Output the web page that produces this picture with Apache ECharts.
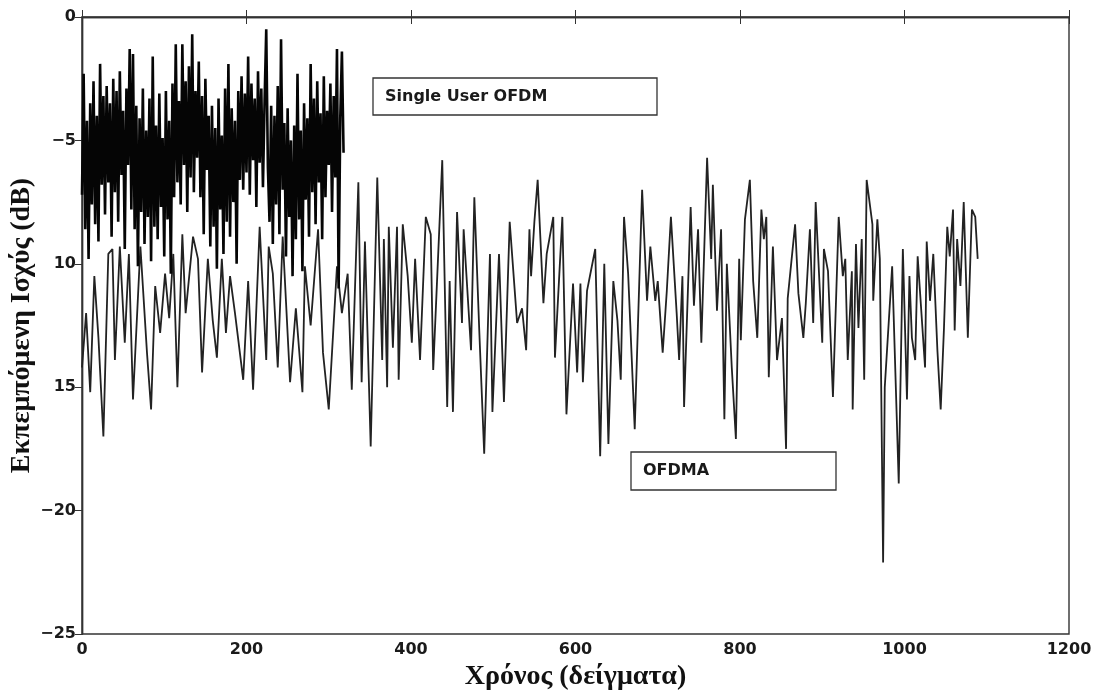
<!DOCTYPE html>
<html>
<head>
<meta charset="utf-8">
<script src="https://cdn.jsdelivr.net/npm/echarts@6/dist/echarts.min.js"></script>
<style>html,body{margin:0;padding:0;background:#fff}#c{width:1100px;height:693px}</style>
</head>
<body>
<div id="c"></div>
<script>
// Single User OFDM: values every 2 samples starting at sample 0
const suStep = 2;
const singleUser = [
-7.2,-2.3,-8.6,-4.2,-9.8,-3.5,-7.6,-2.6,-8.4,-4.0,
-9.1,-1.9,-6.8,-3.2,-8.0,-2.8,-6.7,-3.5,-8.9,-2.5,
-7.1,-3.0,-8.3,-2.2,-6.4,-3.8,-9.4,-2.9,-6.0,-1.3,
-7.8,-1.5,-8.6,-3.6,-10.1,-4.1,-7.9,-2.9,-9.2,-4.6,
-8.1,-3.3,-9.9,-1.6,-8.5,-4.4,-9.0,-3.1,-7.7,-4.9,
-9.7,-3.0,-8.2,-4.2,-10.4,-2.7,-7.3,-1.1,-6.7,-3.4,
-7.6,-1.1,-6.0,-2.6,-7.9,-2.0,-6.5,-0.7,-7.1,-3.0,
-5.7,-1.8,-7.3,-3.2,-8.8,-2.5,-6.2,-4.0,-9.3,-3.6,
-8.5,-4.5,-10.2,-3.3,-7.8,-4.8,-9.6,-2.9,-8.3,-1.9,
-8.9,-3.7,-7.5,-4.2,-10.0,-3.0,-6.6,-2.4,-7.0,-3.1,
-6.3,-1.6,-7.2,-2.7,-5.8,-3.3,-7.7,-2.2,-5.9,-2.9,
-6.9,-3.4,-0.5,-6.1,-8.3,-3.6,-9.2,-4.0,-7.6,-2.8,
-8.8,-0.9,-7.0,-4.3,-9.7,-3.7,-8.1,-5.0,-10.5,-4.4,
-9.0,-2.3,-8.2,-4.6,-10.3,-3.5,-7.4,-4.1,-8.9,-1.9,
-7.1,-3.3,-8.4,-2.6,-6.7,-3.9,-9.0,-2.4,-7.3,-3.8,
-6.0,-2.7,-7.9,-3.2,-6.5,-1.3,-11.0,-4.1,-1.4,-5.5
];

// OFDMA: sample positions and values (dB)
const ofdmaX = [
0,5,10,15,20,26,32,37,40,46,52,57,62,71,79,84,89,95,101,106,
111,116,122,126,135,141,146,153,159,164,170,175,180,186,196,202,208,216,224,227,
232,238,244,253,260,268,271,278,287,293,300,310,316,323,328,336,340,344,351,359,
365,367,371,373,378,383,385,390,396,401,405,411,418,424,427,438,444,447,451,456,
462,464,473,477,483,489,496,499,507,513,520,529,535,540,544,546,550,554,561,565,
573,575,584,589,597,602,606,609,614,624,630,635,640,646,651,655,659,664,672,681,
687,691,697,700,706,711,716,723,726,730,732,740,744,749,753,760,765,767,772,777,
781,784,790,795,799,801,806,812,816,821,826,829,832,835,840,845,851,856,858,867,
871,877,880,885,889,892,900,902,907,913,920,925,928,931,936,937,941,944,948,951,
954,961,962,967,970,974,976,985,993,998,1003,1006,1009,1013,1016,1025,1027,1031,1035,1040,
1044,1048,1052,1055,1059,1061,1064,1068,1072,1077,1082,1086,1089
];
const ofdmaY = [
-14.2,-12,-15.2,-10.5,-13,-17,-9.6,-9.4,-13.9,-9.3,-13.2,-9.6,-15.5,-9.3,-13.6,-15.9,-10.9,-12.8,-10.4,-12.2,
-9.6,-15,-8.8,-12,-8.9,-9.8,-14.4,-9.8,-12.3,-13.8,-9.8,-12.8,-10.5,-12,-14.7,-10.7,-15.1,-8.5,-13.9,-9.3,
-10.4,-14.2,-8.9,-14.8,-11.8,-15.2,-10.1,-12.5,-8.6,-13.6,-15.9,-10.1,-12,-10.4,-15.1,-6.7,-14.8,-9.1,-17.4,-6.5,
-13.9,-9.0,-15,-8.5,-13.4,-8.5,-14.7,-8.4,-10.5,-13.2,-9.8,-13.9,-8.1,-8.8,-14.3,-5.8,-15.8,-10.7,-16,-7.9,
-12.4,-8.6,-13.5,-7.3,-12.7,-17.7,-9.6,-16,-9.6,-15.6,-8.3,-12.4,-11.8,-13.5,-8.6,-10.5,-8.3,-6.6,-11.6,-9.6,
-8.1,-13.8,-8.1,-16.1,-10.8,-14.4,-10.8,-14.8,-11.1,-9.4,-17.8,-10,-17.3,-10.7,-12.3,-14.7,-8.1,-10.4,-16.7,-7.0,
-11.5,-9.3,-11.5,-10.7,-13.6,-11.1,-8.1,-12,-13.9,-10.5,-15.8,-7.7,-11.7,-8.6,-13.2,-5.7,-9.8,-6.8,-11.9,-8.6,
-16.3,-10,-14.2,-17.1,-9.8,-13.1,-8.2,-6.6,-10.7,-13,-7.8,-9,-8.1,-14.6,-9.3,-13.9,-12.2,-17.5,-11.4,-8.4,
-11.2,-13,-11.6,-8.6,-12.4,-7.5,-13.2,-9.4,-10.3,-15.4,-8.1,-10.5,-9.8,-13.9,-10.3,-15.9,-9.2,-12.6,-9.0,-14.7,
-6.6,-8.4,-11.5,-8.2,-9.8,-22.1,-15,-10.1,-18.9,-9.4,-15.5,-10.5,-13,-13.9,-9.7,-14.2,-9.1,-11.5,-9.6,-13.5,
-15.9,-12.6,-8.5,-9.7,-7.8,-12.7,-9.0,-10.9,-7.5,-13,-7.8,-8.1,-9.8
];

const xTickLabels = ['0', '200', '400', '600', '800', '1000', '1200'];
const yTickLabels = ['\u221225', '\u221220', '15', '10', '\u22125', '0']; // as printed, from -25 up to 0
const seriesNames = ['OFDMA', 'Single User OFDM'];

const suData = singleUser.map((v, i) => [i * suStep, v]);
const ofdmaData = ofdmaX.map((x, i) => [x, ofdmaY[i]]);

const chart = echarts.init(document.getElementById('c'));
const labelFont = { fontFamily: 'DejaVu Sans, sans-serif', fontSize: 16, fontWeight: 'bold', color: '#1a1a1a' };
const serifName = { fontFamily: 'Liberation Serif, Times New Roman, serif', fontSize: 28, fontWeight: 'bold', color: '#111' };

chart.setOption({
  animation: false,
  backgroundColor: '#fff',
  grid: { left: 82, right: 31, top: 17, bottom: 59, containLabel: false, outerBoundsMode: 'none', show: true, borderColor: '#333', borderWidth: 1.4, backgroundColor: 'transparent' },
  xAxis: [{
    type: 'value', min: 0, max: 1200, interval: 200,
    position: 'bottom',
    name: 'Χρόνος (δείγματα)', nameLocation: 'middle', nameGap: 25, nameTextStyle: serifName,
    axisLine: { show: true, lineStyle: { color: '#333', width: 1.4 } },
    axisTick: { show: true, inside: true, length: 7, lineStyle: { color: '#333' } },
    axisLabel: Object.assign({ margin: 8, formatter: (v) => xTickLabels[Math.round(v / 200)] }, labelFont),
    splitLine: { show: false }
  }, {
    type: 'value', min: 0, max: 1200, interval: 200,
    position: 'top',
    axisLine: { show: true, lineStyle: { color: '#333', width: 1.4 } },
    axisTick: { show: true, inside: true, length: 7, lineStyle: { color: '#333' } },
    axisLabel: { show: false }, splitLine: { show: false }
  }],
  yAxis: [{
    type: 'value', min: -25, max: 0, interval: 5,
    position: 'left',
    name: 'Εκπεμπόμενη Ισχύς (dB)', nameLocation: 'middle', nameGap: 46, nameMoveOverlap: false, nameTextStyle: serifName,
    axisLine: { show: true, lineStyle: { color: '#333', width: 1.4 } },
    axisTick: { show: true, inside: false, length: 6, lineStyle: { color: '#333' } },
    axisLabel: Object.assign({ margin: 6, formatter: (v) => yTickLabels[Math.round((v + 25) / 5)] }, labelFont),
    splitLine: { show: false }
  }, {
    type: 'value', min: -25, max: 0, interval: 5,
    position: 'right',
    axisLine: { show: true, lineStyle: { color: '#333', width: 1.4 } },
    axisTick: { show: true, inside: true, length: 7, lineStyle: { color: '#333' } },
    axisLabel: { show: false }, splitLine: { show: false }
  }],
  series: [{
    name: seriesNames[0], type: 'line', data: ofdmaData, showSymbol: false, symbol: 'none',
    lineStyle: { color: '#222', width: 1.8 }, z: 2
  }, {
    name: seriesNames[1], type: 'line', data: suData, showSymbol: false, symbol: 'none',
    lineStyle: { color: '#050505', width: 2.6 }, z: 3
  }],
  graphic: [
    { type: 'rect', z: 100, shape: { x: 373, y: 78, width: 284, height: 37 }, style: { fill: '#fff', stroke: '#333', lineWidth: 1.3 } },
    { type: 'text', z: 101, x: 385, y: 97, style: { text: seriesNames[1], fill: '#1a1a1a', font: 'bold 16px "DejaVu Sans", sans-serif', verticalAlign: 'middle' } },
    { type: 'rect', z: 100, shape: { x: 631, y: 452, width: 205, height: 38 }, style: { fill: '#fff', stroke: '#333', lineWidth: 1.3 } },
    { type: 'text', z: 101, x: 643, y: 471, style: { text: seriesNames[0], fill: '#1a1a1a', font: 'bold 16px "DejaVu Sans", sans-serif', verticalAlign: 'middle' } }
  ]
});
</script>
</body>
</html>
